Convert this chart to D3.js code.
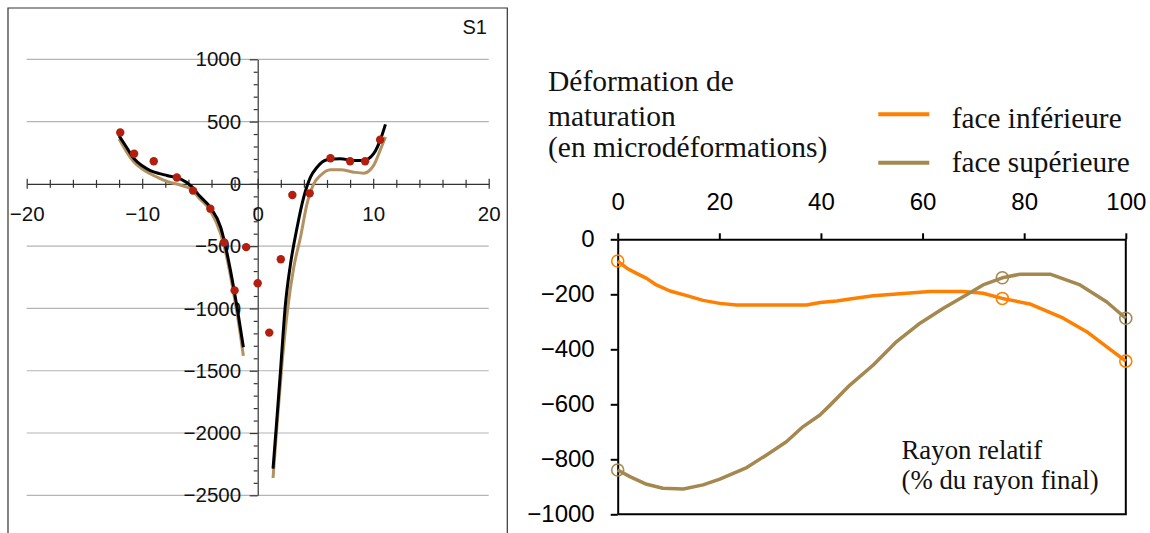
<!DOCTYPE html>
<html>
<head>
<meta charset="utf-8">
<script src="https://cdn.jsdelivr.net/npm/d3@7"></script>
<style>
  body { margin: 0; background: #fff; }
  svg { display: block; }
</style>
</head>
<body>
<script>
// left panel (S1): measured points and the two fitted curves
const dotsX = [-11.9, -10.7, -9.0, -7.0, -5.6, -4.1, -2.9, -2.0, -1.0, 0.0, 1.0, 2.0, 3.0, 4.5, 6.3, 8.0, 9.3, 10.6];
const dotsY = [413, 242, 182, 51, -54, -199, -471, -855, -508, -798, -1194, -605, -89, -76, 206, 182, 182, 354];

const blackLeftX = [-12.0, -11.4, -10.7, -10.0, -9.3, -8.5, -7.85, -6.7, -5.8, -5.0, -4.1, -3.2, -2.65, -2.08, -1.73, -1.24];
const blackLeftY = [385, 300, 201, 145, 107, 82, 67, 40, -14, -100, -189, -350, -560, -834, -1022, -1312];
const tanLeftX = [-12.0, -11.4, -10.7, -10.0, -9.3, -8.5, -7.85, -6.7, -5.8, -5.0, -4.1, -3.2, -2.65, -2.08, -1.73, -1.24];
const tanLeftY = [360, 265, 174, 120, 81, 45, 19, -10, -40, -121, -215, -403, -600, -880, -1070, -1381];

const blackRightX = [1.33, 1.65, 1.97, 2.4, 2.83, 3.41, 3.98, 4.56, 5.14, 6.0, 7.16, 8.31, 9.18, 10.04, 10.6, 11.06];
const blackRightY = [-2285, -1900, -1506, -968, -650, -350, -108, 53, 134, 193, 201, 188, 188, 242, 349, 478];
const tanRightX = [1.33, 1.7, 2.1, 2.6, 3.12, 3.7, 4.27, 4.85, 5.43, 6.3, 7.16, 8.31, 9.18, 10.04, 10.6, 11.06];
const tanRightY = [-2361, -1900, -1450, -1000, -672, -430, -161, 0, 67, 113, 113, 94, 86, 148, 269, 376];

const leftXTicks = [-20, -10, 0, 10, 20];
const leftYTicks = [1000, 500, 0, -500, -1000, -1500, -2000, -2500];

// right panel: maturation strain vs relative radius
const infX = [0, 1.8, 3.7, 5.7, 7.6, 10.3, 13.6, 16.8, 20.1, 23.4, 26.7, 33.3, 37.2, 39.8, 43.1, 45.7, 50.3, 54.9, 61.4, 68.0, 71.9, 75.7, 81.1, 87.7, 92.3, 96.2, 100];
const infY = [-79, -105, -124, -142, -166, -188, -205, -222, -233, -239, -239, -239, -239, -230, -224, -217, -205, -199, -190, -190, -196, -215, -235, -287, -336, -390, -443];
const supX = [0, 2.4, 5.7, 8.9, 12.9, 16.8, 20.1, 25.4, 29.3, 33.2, 36.5, 39.8, 41.8, 45.7, 50.3, 54.9, 59.5, 64.1, 68.0, 71.9, 75.7, 79.2, 85.1, 91.0, 96.2, 100];
const supY = [-839, -863, -891, -905, -908, -893, -872, -830, -784, -736, -681, -639, -603, -530, -457, -372, -305, -251, -209, -166, -140, -127, -127, -166, -227, -287];

const markerX = [0, 75.7, 100];
const infMarkers = [-79, -215, -443];
const supMarkers = [-839, -140, -287];

const rightXTicks = [0, 20, 40, 60, 80, 100];
const rightYTicks = [0, -200, -400, -600, -800, -1000];

const seriesNames = ['face inférieure', 'face supérieure'];
const titleLines = ['Déformation de', 'maturation', '(en microdéformations)'];
const xTitleLines = ['Rayon relatif', '(% du rayon final)'];

const ORANGE = '#ff8000';
const TAN = '#a4884f';
const TAN_LEFT = '#b39160';
const DOT = '#b21f0f';

const svg = d3.select('body').append('svg')
  .attr('width', 1150)
  .attr('height', 533);

svg.append('rect').attr('width', 1150).attr('height', 533).attr('fill', '#fff');

// ---------- left panel ----------
const xL = d3.scaleLinear().domain([-20, 20]).range([26.7, 488.7]);
const yL = d3.scaleLinear().domain([-2500, 1000]).range([495.3, 59.3]);

const left = svg.append('g').attr('font-family', 'Liberation Sans, Arial, sans-serif');

left.append('path')
  .attr('d', 'M8,545V8H507.3V545')
  .attr('fill', 'none')
  .attr('stroke', '#333')
  .attr('stroke-width', 1.2);

left.append('g')
  .selectAll('line')
  .data(leftYTicks.filter(d => d !== 0))
  .join('line')
  .attr('x1', xL(-20))
  .attr('x2', xL(20))
  .attr('y1', d => yL(d))
  .attr('y2', d => yL(d))
  .attr('stroke', '#b4b4b4')
  .attr('stroke-width', 1.2);

const minorY = d3.range(-2500, 1001, 100).filter(d => d % 500 !== 0);
left.append('g')
  .attr('transform', `translate(${xL(0)},0)`)
  .call(d3.axisLeft(yL).tickValues(minorY).tickSize(4).tickSizeOuter(0).tickFormat(''))
  .call(g => g.select('.domain').remove())
  .call(g => g.selectAll('.tick line').attr('stroke', '#333').attr('stroke-width', 1.2));

left.append('g')
  .attr('transform', `translate(${xL(0)},0)`)
  .call(d3.axisLeft(yL).tickValues(leftYTicks).tickSize(8).tickSizeOuter(0).tickPadding(8.6).tickFormat(d3.format('d')))
  .call(g => g.select('.domain').attr('stroke', '#333').attr('stroke-width', 1.2))
  .call(g => g.selectAll('.tick line').attr('stroke', '#333').attr('stroke-width', 1.2))
  .call(g => g.selectAll('.tick text').attr('font-size', 20.5).attr('fill', '#111').attr('font-family', null));

const minorX = d3.range(-20, 21, 2).filter(d => d % 10 !== 0);
left.append('g')
  .attr('transform', `translate(0,${yL(0)})`)
  .call(d3.axisBottom(xL).tickValues(minorX).tickSize(4).tickSizeOuter(0).tickFormat(''))
  .call(g => g.select('.domain').remove())
  .call(g => g.selectAll('.tick line').attr('y1', -4).attr('stroke', '#333').attr('stroke-width', 1.2));

left.append('g')
  .attr('transform', `translate(0,${yL(0)})`)
  .call(d3.axisBottom(xL).tickValues(leftXTicks).tickSize(5).tickSizeOuter(0).tickFormat(d3.format('d')))
  .call(g => g.select('.domain').attr('stroke', '#333').attr('stroke-width', 1.2))
  .call(g => g.selectAll('.tick line').attr('y1', -5).attr('stroke', '#333').attr('stroke-width', 1.2))
  .call(g => g.selectAll('.tick text')
    .attr('y', 30).attr('dy', '0.35em')
    .attr('font-size', 20.5).attr('fill', '#111').attr('font-family', null));

const lineL = d3.line().x(d => xL(d[0])).y(d => yL(d[1])).curve(d3.curveMonotoneX);
const zip = (xs, ys) => xs.map((x, i) => [x, ys[i]]);

const curvesL = [
  { pts: zip(tanLeftX, tanLeftY), color: TAN_LEFT },
  { pts: zip(tanRightX, tanRightY), color: TAN_LEFT },
  { pts: zip(blackLeftX, blackLeftY), color: '#000' },
  { pts: zip(blackRightX, blackRightY), color: '#000' }
];

left.append('g')
  .selectAll('path')
  .data(curvesL)
  .join('path')
  .attr('d', d => lineL(d.pts))
  .attr('fill', 'none')
  .attr('stroke', d => d.color)
  .attr('stroke-width', 3);

left.append('g')
  .selectAll('circle')
  .data(zip(dotsX, dotsY))
  .join('circle')
  .attr('cx', d => xL(d[0]))
  .attr('cy', d => yL(d[1]))
  .attr('r', 4.2)
  .attr('fill', DOT);

left.append('text')
  .attr('x', 487)
  .attr('y', 34)
  .attr('text-anchor', 'end')
  .attr('font-size', 20)
  .attr('fill', '#111')
  .text('S1');

// ---------- right panel ----------
const xR = d3.scaleLinear().domain([0, 100]).range([617.7, 1125.8]);
const yR = d3.scaleLinear().domain([-1000, 0]).range([514.3, 239.3]);

const right = svg.append('g').attr('font-family', 'Liberation Sans, Arial, sans-serif');

right.append('g')
  .attr('transform', `translate(0,${yR(0)})`)
  .call(d3.axisTop(xR).tickValues(rightXTicks).tickSize(6).tickSizeOuter(0).tickPadding(23).tickFormat(d3.format('d')))
  .call(g => g.select('.domain').attr('stroke', '#000').attr('stroke-width', 2))
  .call(g => g.selectAll('.tick line').attr('stroke', '#000').attr('stroke-width', 2))
  .call(g => g.selectAll('.tick text').attr('font-size', 24).attr('fill', '#000').attr('font-family', null));

right.append('g')
  .attr('transform', `translate(${xR(0)},0)`)
  .call(d3.axisLeft(yR).tickValues(rightYTicks).tickSize(7).tickSizeOuter(0).tickPadding(16).tickFormat(d3.format('d')))
  .call(g => g.select('.domain').attr('stroke', '#000').attr('stroke-width', 2))
  .call(g => g.selectAll('.tick line').attr('stroke', '#000').attr('stroke-width', 2))
  .call(g => g.selectAll('.tick text').attr('font-size', 24).attr('fill', '#000').attr('font-family', null));

right.append('path')
  .attr('d', `M${xR(0)},${yR(-1000)}H${xR(100)}V${yR(0)}`)
  .attr('fill', 'none')
  .attr('stroke', '#000')
  .attr('stroke-width', 2);

const lineR = d3.line().x(d => xR(d[0])).y(d => yR(d[1]));

const seriesR = [
  { pts: zip(infX, infY), marks: zip(markerX, infMarkers), color: ORANGE },
  { pts: zip(supX, supY), marks: zip(markerX, supMarkers), color: TAN }
];

right.append('g')
  .selectAll('path')
  .data(seriesR)
  .join('path')
  .attr('d', d => lineR(d.pts))
  .attr('fill', 'none')
  .attr('stroke', d => d.color)
  .attr('stroke-width', 3.5)
  .attr('stroke-linejoin', 'round');

seriesR.forEach(s => {
  right.append('g')
    .selectAll('circle')
    .data(s.marks)
    .join('circle')
    .attr('cx', d => xR(d[0]))
    .attr('cy', d => yR(d[1]))
    .attr('r', 6)
    .attr('fill', 'none')
    .attr('stroke', s.color)
    .attr('stroke-width', 1.6);
});

// titles and legend (serif)
const serif = svg.append('g').attr('font-family', 'Liberation Serif, Times New Roman, serif').attr('fill', '#111');

serif.append('text')
  .attr('font-size', 29.5)
  .selectAll('tspan')
  .data(titleLines)
  .join('tspan')
  .attr('x', 548)
  .attr('y', (d, i) => [91, 125.5, 157][i])
  .text(d => d);

serif.append('text')
  .attr('font-size', 26.8)
  .selectAll('tspan')
  .data(xTitleLines)
  .join('tspan')
  .attr('x', 901.5)
  .attr('y', (d, i) => [458.5, 489][i])
  .text(d => d);

const legend = serif.append('g')
  .selectAll('g')
  .data(seriesNames)
  .join('g')
  .attr('transform', (d, i) => `translate(0,${[114.3, 162.7][i]})`);

legend.append('line')
  .attr('x1', 878.3)
  .attr('x2', 929.3)
  .attr('stroke', (d, i) => seriesR[i].color)
  .attr('stroke-width', 4);

legend.append('text')
  .attr('x', 951.7)
  .attr('y', (d, i) => [13.4, 9.6][i])
  .attr('font-size', 29.3)
  .text(d => d);
</script>
</body>
</html>
